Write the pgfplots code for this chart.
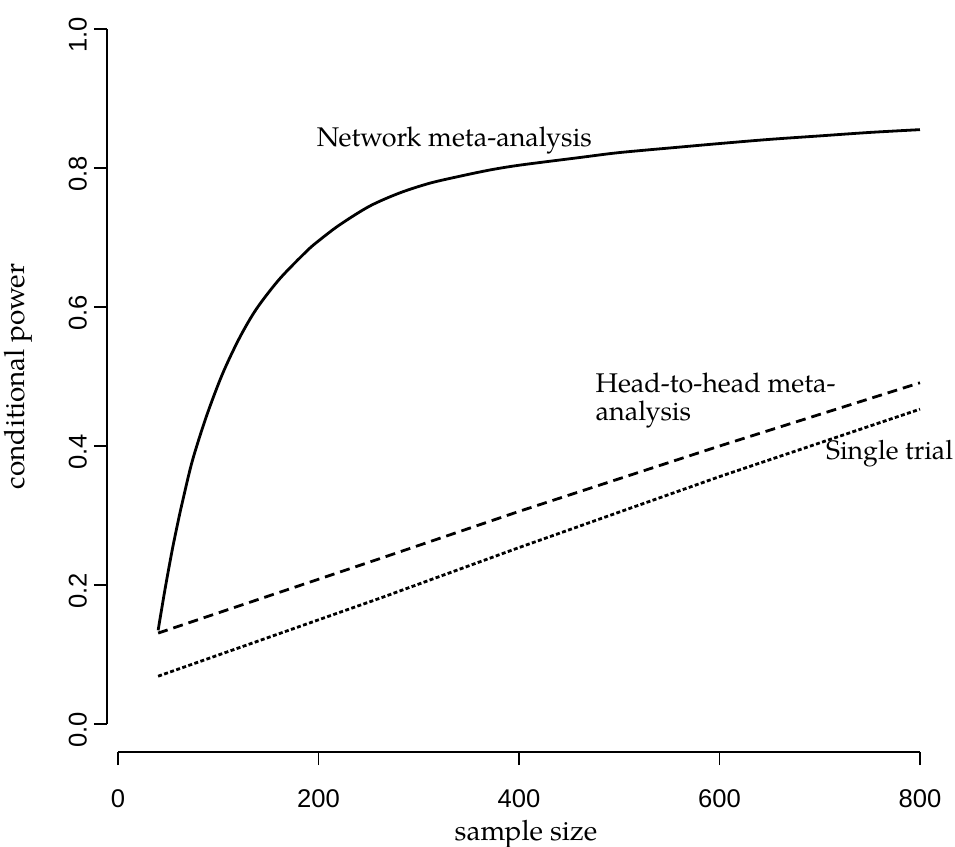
\documentclass[border=0pt]{standalone}
\usepackage{fontspec}
\setmainfont{TeX Gyre Pagella}
\newfontfamily\ticksf{Liberation Sans}
\usepackage{pgfplots}
\pgfplotsset{compat=1.18}

\begin{document}
\begin{tikzpicture}
\begin{axis}[
  name=ax,
  scale only axis,
  width=412pt, height=375.5pt,
  xmin=-11, xmax=811, ymin=-0.04, ymax=1.04,
  axis line style={draw=none},
  tick align=outside, major tick length=6.5pt,
  xtick={0,200,400,600,800}, ytick={0,0.2,0.4,0.6,0.8,1},
  xtick pos=left, ytick pos=left,
  tick style={black, line width=0.8pt},
  ticklabel style={font=\ticksf\fontsize{12.8}{14}\selectfont},
  /pgf/number format/assume math mode=true,
  yticklabel style={rotate=90, anchor=south, xshift=-3pt,
    /pgf/number format/fixed, /pgf/number format/fixed zerofill,
    /pgf/number format/precision=1},
  xticklabel style={yshift=-9pt},
  clip=false,
]
% R-style axis lines, only over the tick range
\draw[line width=0.8pt] (axis cs:0,-0.04) -- (axis cs:800,-0.04);
\draw[line width=0.8pt] (axis cs:-11,0) -- (axis cs:-11,1);

% network meta-analysis
\addplot[black, line width=1.4pt, smooth] coordinates {
  (40,0.135) (47,0.195) (54,0.250) (60,0.292) (64,0.318) (74,0.378)
  (88,0.442) (104,0.503) (121,0.555) (138,0.597) (161,0.640) (188,0.680)
  (200,0.695) (221,0.718) (251,0.745) (281,0.764) (311,0.778) (341,0.788)
  (371,0.797) (401,0.804) (461,0.815) (500,0.822) (561,0.830) (600,0.835)
  (650,0.841) (700,0.846) (750,0.851) (800,0.855)
};
% head-to-head meta-analysis
\addplot[black, line width=1.4pt, dash pattern=on 5pt off 3pt] coordinates {
  (40,0.131) (261,0.238) (400,0.306) (600,0.400) (800,0.491)
};
% single trial
\addplot[black, line width=1.4pt, dash pattern=on 2pt off 1.2pt] coordinates {
  (40,0.069) (261,0.181) (400,0.254) (600,0.356) (800,0.453)
};

\node[anchor=west, font=\fontsize{13.5}{16}\selectfont, inner sep=0pt] at (axis cs:198,0.840) {Network meta-analysis};
\node[anchor=west, font=\fontsize{13.5}{16}\selectfont, inner sep=0pt] at (axis cs:476,0.491) {Head-to-head meta-};
\node[anchor=west, font=\fontsize{13.5}{16}\selectfont, inner sep=0pt] at (axis cs:476,0.445) {analysis};
\node[anchor=west, font=\fontsize{13.3}{16}\selectfont, inner sep=0pt] at (axis cs:706,0.389) {Single trial};

\node[font=\fontsize{14}{16}\selectfont] at (rel axis cs:0.5085,-0.109) {sample size};
\node[font=\fontsize{14}{16}\selectfont, rotate=90] at (rel axis cs:-0.108,0.5) {conditional power};
\end{axis}
\pgfresetboundingbox
\path[use as bounding box] ([xshift=-53.5pt,yshift=-47.5pt]ax.south west) rectangle ([xshift=12pt,yshift=0.5pt]ax.north east);
\end{tikzpicture}
\end{document}
